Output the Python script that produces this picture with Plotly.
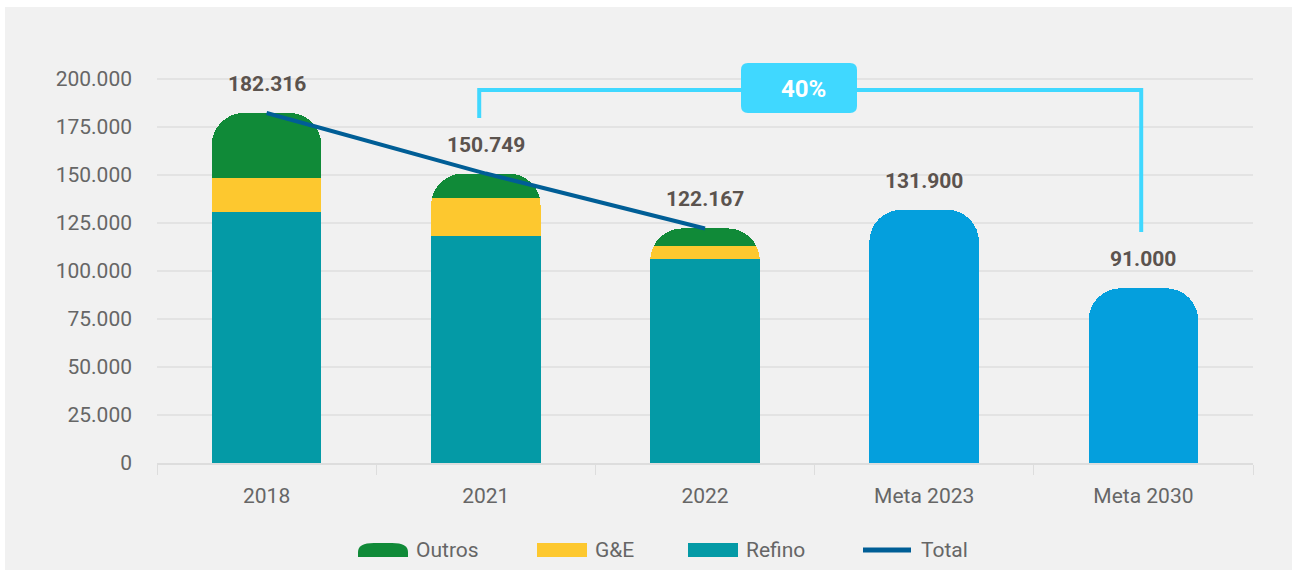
import plotly.graph_objects as go

# Categories and values (t)
categories = ["2018", "2021", "2022", "Meta 2023", "Meta 2030"]
hist_years = ["2018", "2021", "2022"]
refino = [130600, 118200, 106250]
ge = [17800, 19800, 6750]
outros = [33916, 12749, 9167]
totals = [182316, 150749, 122167]
meta_years = ["Meta 2023", "Meta 2030"]
meta_values = [131900, 91000]
y_ticks = [0, 25000, 50000, 75000, 100000, 125000, 150000, 175000, 200000]
y_tick_labels = ["0", "25.000", "50.000", "75.000", "100.000", "125.000",
                 "150.000", "175.000", "200.000"]
reduction_label = "40%"

FONT = "Roboto, sans-serif"
LABEL_COLOR = "#5b534e"
TICK_COLOR = "#666666"

C_REFINO = "#049aa6"
C_GE = "#fdc82f"
C_OUTROS = "#108a38"
C_META = "#049fdd"
C_TOTAL = "#005e96"
C_BRACKET = "#40d8ff"

# Plot area in pixels (used to place the legend and badge)
W, H = 1292, 570
L, R, T, B = 157, 39, 31, 107
PW, PH = W - L - R, H - T - B


def px(x):
    return (x - L) / PW


def py(y):
    return (H - B - y) / PH


def fmt(v):
    return f"{v:,.0f}".replace(",", ".")


def rounded_rect(x0, y0, x1, y1, r):
    return (f"M {px(x0 + r)},{py(y0)} L {px(x1 - r)},{py(y0)} "
            f"Q {px(x1)},{py(y0)} {px(x1)},{py(y0 + r)} L {px(x1)},{py(y1 - r)} "
            f"Q {px(x1)},{py(y1)} {px(x1 - r)},{py(y1)} L {px(x0 + r)},{py(y1)} "
            f"Q {px(x0)},{py(y1)} {px(x0)},{py(y1 - r)} L {px(x0)},{py(y0 + r)} "
            f"Q {px(x0)},{py(y0)} {px(x0 + r)},{py(y0)} Z")


fig = go.Figure()

fig.add_trace(go.Bar(x=hist_years, y=refino, name="Refino",
                     marker=dict(color=C_REFINO, line=dict(width=0)), width=0.5))
fig.add_trace(go.Bar(x=hist_years, y=ge, name="G&E",
                     marker=dict(color=C_GE, line=dict(width=0)), width=0.5))
fig.add_trace(go.Bar(x=hist_years, y=outros, name="Outros",
                     marker=dict(color=C_OUTROS, line=dict(width=0)), width=0.5))
fig.add_trace(go.Bar(x=meta_years, y=meta_values, name="Meta",
                     marker=dict(color=C_META, line=dict(width=0)), width=0.5))
fig.add_trace(go.Scatter(x=hist_years, y=totals, name="Total", mode="lines",
                         line=dict(color=C_TOTAL, width=4)))

# Value labels above each bar
for cat, val in list(zip(hist_years, totals)) + list(zip(meta_years, meta_values)):
    fig.add_annotation(x=categories.index(cat), y=val, text=f"<b>{fmt(val)}</b>",
                       showarrow=False, yshift=29,
                       font=dict(family=FONT, size=21, color=LABEL_COLOR))

# Bracket between 2021 and Meta 2030 with reduction badge
fig.add_shape(type="path", xref="x", yref="y",
              path="M 0.97,179700 L 0.97,194300 L 3.99,194300 L 3.99,120300",
              line=dict(color=C_BRACKET, width=4))
fig.add_shape(type="path", xref="paper", yref="paper",
              path=rounded_rect(741, 63, 857, 113, 7),
              fillcolor=C_BRACKET, line=dict(width=0))
fig.add_annotation(x=px(803), y=py(89), xref="paper", yref="paper",
                   xanchor="center", yanchor="middle",
                   text=f"<b>{reduction_label}</b>", showarrow=False,
                   font=dict(family=FONT, size=24, color="white"))

# Outer white frame on top/left edges
fig.add_shape(type="rect", xref="paper", yref="paper", x0=px(-50), x1=px(1350),
              y0=py(7), y1=py(-50), fillcolor="white", line=dict(width=0), layer="below")
fig.add_shape(type="rect", xref="paper", yref="paper", x0=px(-50), x1=px(5),
              y0=py(620), y1=py(-50), fillcolor="white", line=dict(width=0), layer="below")

# Legend drawn below the axis
ly = 550
dome = (f"M {px(358)},{py(557)} L {px(358)},{py(552)} "
        f"Q {px(358)},{py(543)} {px(374)},{py(543)} L {px(392)},{py(543)} "
        f"Q {px(408)},{py(543)} {px(408)},{py(552)} L {px(408)},{py(557)} Z")
fig.add_shape(type="path", xref="paper", yref="paper", path=dome,
              fillcolor=C_OUTROS, line=dict(width=0))
fig.add_shape(type="rect", xref="paper", yref="paper", x0=px(537), x1=px(587),
              y0=py(557), y1=py(543), fillcolor=C_GE, line=dict(width=0))
fig.add_shape(type="rect", xref="paper", yref="paper", x0=px(688), x1=px(738),
              y0=py(557), y1=py(543), fillcolor=C_REFINO, line=dict(width=0))
fig.add_shape(type="line", xref="paper", yref="paper", x0=px(863), x1=px(911),
              y0=py(ly), y1=py(ly), line=dict(color=C_TOTAL, width=5))
for label, x0 in [("Outros", 414), ("G&E", 593), ("Refino", 744), ("Total", 919)]:
    fig.add_annotation(x=px(x0), y=py(ly), xref="paper", yref="paper", text=label,
                       showarrow=False, xanchor="left", yanchor="middle",
                       font=dict(family=FONT, size=21, color=TICK_COLOR))

fig.update_layout(
    width=W, height=H,
    margin=dict(l=L, r=R, t=T, b=B, autoexpand=False),
    paper_bgcolor="#f1f1f1", plot_bgcolor="#f1f1f1",
    barmode="stack", barcornerradius=32,
    font=dict(family=FONT, size=21, color=TICK_COLOR),
    showlegend=False,
    xaxis=dict(type="category", categoryorder="array", categoryarray=categories,
               range=[-0.5, 4.5], automargin=False, tickangle=0,
               showline=True, linecolor="#dddddd", linewidth=2,
               ticks="outside", tickson="boundaries", ticklen=10, tickcolor="#dddddd",
               ticklabelstandoff=13, tickfont=dict(size=21, color=TICK_COLOR),
               showgrid=False),
    yaxis=dict(range=[0, 225000], tickvals=y_ticks, ticktext=y_tick_labels,
               automargin=False,
               showgrid=True, gridcolor="#e3e3e3", gridwidth=2, zeroline=False,
               ticklabelstandoff=24, tickfont=dict(size=21, color=TICK_COLOR)),
)

fig.write_html("out.html")
